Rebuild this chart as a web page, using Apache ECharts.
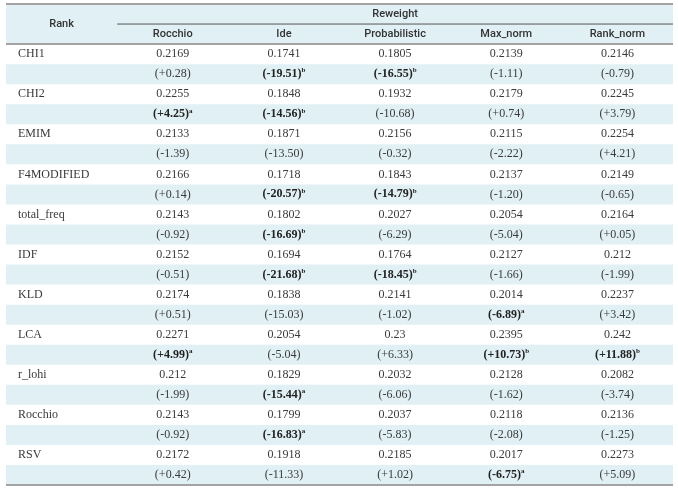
<!DOCTYPE html>
<html>
<head>
<meta charset="utf-8">
<script src="https://cdn.jsdelivr.net/npm/echarts@6/dist/echarts.min.js"></script>
<style>html,body{margin:0;padding:0;background:#fff;}#c{width:678px;height:493px;}</style>
</head>
<body>
<div id="c"></div>
<script>
const rankHeader = 'Rank';
const groupHeader = 'Reweight';
const reweightMethods = ['Rocchio', 'Ide', 'Probabilistic', 'Max_norm', 'Rank_norm'];
const rankMethods = ['CHI1', 'CHI2', 'EMIM', 'F4MODIFIED', 'total_freq', 'IDF', 'KLD', 'LCA', 'r_lohi', 'Rocchio', 'RSV'];
const scores = [
  [0.2169, 0.1741, 0.1805, 0.2139, 0.2146],
  [0.2255, 0.1848, 0.1932, 0.2179, 0.2245],
  [0.2133, 0.1871, 0.2156, 0.2115, 0.2254],
  [0.2166, 0.1718, 0.1843, 0.2137, 0.2149],
  [0.2143, 0.1802, 0.2027, 0.2054, 0.2164],
  [0.2152, 0.1694, 0.1764, 0.2127, 0.212],
  [0.2174, 0.1838, 0.2141, 0.2014, 0.2237],
  [0.2271, 0.2054, 0.23, 0.2395, 0.242],
  [0.212, 0.1829, 0.2032, 0.2128, 0.2082],
  [0.2143, 0.1799, 0.2037, 0.2118, 0.2136],
  [0.2172, 0.1918, 0.2185, 0.2017, 0.2273]
];
const changes = [
  [0.28, -19.51, -16.55, -1.11, -0.79],
  [4.25, -14.56, -10.68, 0.74, 3.79],
  [-1.39, -13.50, -0.32, -2.22, 4.21],
  [0.14, -20.57, -14.79, -1.20, -0.65],
  [-0.92, -16.69, -6.29, -5.04, 0.05],
  [-0.51, -21.68, -18.45, -1.66, -1.99],
  [0.51, -15.03, -1.02, -6.89, 3.42],
  [4.99, -5.04, 6.33, 10.73, 11.88],
  [-1.99, -15.44, -6.06, -1.62, -3.74],
  [-0.92, -16.83, -5.83, -2.08, -1.25],
  [0.42, -11.33, 1.02, -6.75, 5.09]
];
const significance = [
  ['', 'b', 'b', '', ''],
  ['a', 'b', '', '', ''],
  ['', '', '', '', ''],
  ['', 'b', 'b', '', ''],
  ['', 'b', '', '', ''],
  ['', 'b', 'b', '', ''],
  ['', '', '', 'a', ''],
  ['a', '', '', 'b', 'b'],
  ['', 'a', '', '', ''],
  ['', 'a', '', '', ''],
  ['', '', '', 'a', '']
];

const NCOL = reweightMethods.length + 1;
const HEADER_ROWS = 2;
const NROW = HEADER_ROWS + rankMethods.length * 2;

const SERIF = '"Liberation Serif", "DejaVu Serif", serif';
const SANS = 'Roboto, "Open Sans", sans-serif';
const TXT = '#3a3a3a';
const BAND = '#e1f0f5';
const RULE = '#a3a3a3';

// cells: [x, y, text, align, kind]
const cells = [];
cells.push({ v: [0.5, 1], text: rankHeader, align: 'center', kind: 'head' });
cells.push({ v: [(1 + NCOL) / 2, 0.5], text: groupHeader, align: 'center', kind: 'head' });
reweightMethods.forEach((m, j) => cells.push({ v: [j + 1.5, 1.5], text: m, align: 'center', kind: 'head' }));
rankMethods.forEach((r, i) => {
  const y0 = HEADER_ROWS + i * 2;
  cells.push({ v: [0, y0 + 0.5], text: r, align: 'left', kind: 'body' });
  reweightMethods.forEach((m, j) => {
    cells.push({ v: [j + 1.5, y0 + 0.5], text: String(scores[i][j]), align: 'center', kind: 'body' });
    const c = changes[i][j];
    const s = '(' + (c >= 0 ? '+' : '') + c.toFixed(2) + ')';
    const sig = significance[i][j];
    const text = sig ? '{b|' + s + '}{sup|' + sig + '}' : '{n|' + s + '}';
    cells.push({ v: [j + 1.5, y0 + 1.5], text: text, align: 'center', kind: 'rich' });
  });
});

const bands = [[0, HEADER_ROWS]];
rankMethods.forEach((r, i) => bands.push([HEADER_ROWS + i * 2 + 1, HEADER_ROWS + i * 2 + 2]));

// rules: [x0, x1, y, width, colorIndex]
const rules = [
  [0, NCOL, 0, 2, 0],
  [0, NCOL, HEADER_ROWS, 2, 0],
  [0, NCOL, NROW, 2, 0],
  [1, NCOL, 1, 1, 1]
];

const chart = echarts.init(document.getElementById('c'), null, { renderer: 'canvas' });
chart.setOption({
  animation: false,
  backgroundColor: '#fff',
  grid: { left: 6, right: 5, top: 4, bottom: 8 },
  xAxis: { type: 'value', min: 0, max: NCOL, show: false },
  yAxis: { type: 'value', min: 0, max: NROW, inverse: true, show: false },
  series: [
    {
      type: 'custom', silent: true, z: 1,
      data: bands,
      renderItem: function (params, api) {
        const p0 = api.coord([0, api.value(0)]);
        const p1 = api.coord([NCOL, api.value(1)]);
        return { type: 'rect', shape: { x: p0[0], y: p0[1], width: p1[0] - p0[0], height: p1[1] - p0[1] }, style: { fill: BAND } };
      }
    },
    {
      type: 'custom', silent: true, z: 3,
      data: rules,
      renderItem: function (params, api) {
        const a = api.coord([api.value(0), api.value(2)]);
        const b = api.coord([api.value(1), api.value(2)]);
        const w = api.value(3);
        return { type: 'line', shape: { x1: a[0], y1: a[1], x2: b[0], y2: b[1] }, style: { stroke: api.value(4) ? '#555' : RULE, lineWidth: w } };
      }
    },
    {
      type: 'custom', silent: true, z: 4,
      data: cells.map(c => c.v),
      renderItem: function (params, api) {
        const c = cells[params.dataIndex];
        const p = api.coord([api.value(0), api.value(1)]);
        const style = {
          text: c.text,
          x: p[0] + (c.align === 'left' ? 12 : 0),
          y: p[1],
          align: c.align,
          verticalAlign: 'middle',
          fill: TXT
        };
        if (c.kind === 'head') {
          style.font = '500 11px ' + SANS;
          style.fill = '#333';
        } else if (c.kind === 'body') {
          style.font = '12px ' + SERIF;
        } else {
          style.font = '12px ' + SERIF;
          style.rich = {
            n: { fontFamily: SERIF, fontSize: 12, lineHeight: 14, fill: TXT },
            b: { fontFamily: SERIF, fontSize: 12, fontWeight: 'bold', lineHeight: 14, fill: '#222' },
            sup: { fontFamily: SERIF, fontSize: 7, fontWeight: 'bold', lineHeight: 8, verticalAlign: 'top', fill: '#222' }
          };
        }
        return { type: 'text', style: style };
      }
    }
  ]
});
</script>
</body>
</html>
